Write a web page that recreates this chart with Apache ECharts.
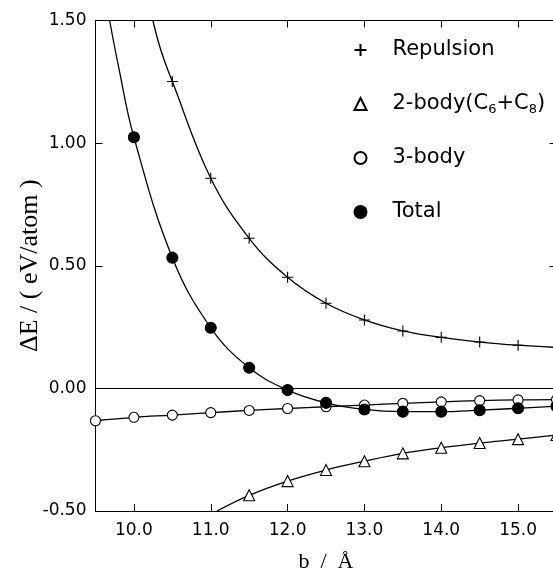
<!DOCTYPE html>
<html>
<head>
<meta charset="utf-8">
<script src="https://cdn.jsdelivr.net/npm/echarts@6/dist/echarts.min.js"></script>
<style>
html,body{margin:0;padding:0;background:#fff;}
#chart{width:553px;height:577px;}
</style>
</head>
<body>
<div id="chart"></div>
<script>
// ---- data ----
const seriesNames = ['Repulsion', '2-body', '3-body', 'Total'];

const repulsionB = [10.5, 11.0, 11.5, 12.0, 12.5, 13.0, 13.5, 14.0, 14.5, 15.0];
const repulsion  = [1.251, 0.857, 0.612, 0.453, 0.347, 0.279, 0.234, 0.208, 0.189, 0.176];

const twoBodyB = [11.5, 12.0, 12.5, 13.0, 13.5, 14.0, 14.5, 15.0, 15.5];
const twoBody  = [-0.436, -0.378, -0.333, -0.297, -0.265, -0.242, -0.223, -0.207, -0.190];

const threeBodyB = [9.5, 10.0, 10.5, 11.0, 11.5, 12.0, 12.5, 13.0, 13.5, 14.0, 14.5, 15.0, 15.5];
const threeBody  = [-0.132, -0.118, -0.109, -0.099, -0.090, -0.082, -0.075, -0.068, -0.061, -0.055, -0.050, -0.047, -0.046];

const totalB = [10.0, 10.5, 11.0, 11.5, 12.0, 12.5, 13.0, 13.5, 14.0, 14.5, 15.0, 15.5];
const total  = [1.024, 0.533, 0.247, 0.084, -0.007, -0.059, -0.086, -0.095, -0.095, -0.089, -0.081, -0.073];

// fitted curves
const repulsionCurveB = [10.247, 10.35, 10.5, 11.0, 11.5, 12.0, 12.5, 13.0, 13.5, 14.0, 14.5, 15.0, 15.5];
const repulsionCurve  = [1.50, 1.38, 1.251, 0.857, 0.612, 0.453, 0.347, 0.279, 0.234, 0.208, 0.189, 0.176, 0.167];

const twoBodyCurveB = [11.08, 11.5, 12.0, 12.5, 13.0, 13.5, 14.0, 14.5, 15.0, 15.5];
const twoBodyCurve  = [-0.50, -0.436, -0.378, -0.333, -0.297, -0.265, -0.242, -0.223, -0.207, -0.190];

const threeBodyCurveB = threeBodyB;
const threeBodyCurve  = threeBody;

const totalCurveB = [9.684, 9.80, 10.0, 10.5, 11.0, 11.5, 12.0, 12.5, 13.0, 13.5, 14.0, 14.5, 15.0, 15.5];
const totalCurve  = [1.50, 1.312, 1.024, 0.533, 0.247, 0.084, -0.007, -0.059, -0.086, -0.095, -0.095, -0.089, -0.081, -0.073];

const xTicks = [10, 11, 12, 13, 14, 15];
const xMin = 9.5, xMax = 15.5;
const yMin = -0.5, yMax = 1.5, yStep = 0.5;

// ---- build chart ----
const zip = (a, b) => a.map((v, i) => [v, b[i]]);
const SANS = 'DejaVu Sans';
const SERIF = 'Liberation Serif';

function curve(name, b, v) {
  return {
    name: name, type: 'line', data: zip(b, v), smooth: 0.4,
    showSymbol: false, symbol: 'none', clip: true, silent: true,
    lineStyle: { color: '#000', width: 1.3 }, z: 2
  };
}
function marks(name, b, v, symbol, size, fill) {
  return {
    name: name, type: 'scatter', data: zip(b, v), symbol: symbol, symbolSize: size,
    clip: false, silent: true, z: 5,
    itemStyle: { color: fill, borderColor: '#000', borderWidth: 1.1, opacity: 1 }
  };
}

const plusPath = 'path://M0,5L10,5M5,0L5,10';

const option = {
  animation: false,
  backgroundColor: '#fff',
  grid: { left: 95.5, top: 20.5, width: 461, height: 490.5, containLabel: false, outerBoundsMode: 'none' },
  legend: {
    orient: 'vertical', left: 352, top: 38, padding: 0,
    itemWidth: 12, itemHeight: 12, itemGap: 30,
    selectedMode: false,
    data: seriesNames,
    formatter: function (name) {
      return name === '2-body' ? '{m|2-body(C}{s|6}{m|+C}{s|8}{m|)}' : '{m|' + name + '}';
    },
    textStyle: {
      fontFamily: SANS, fontSize: 21, color: '#000', lineHeight: 24, padding: [0, 0, 0, 21],
      rich: {
        m: { fontFamily: SANS, fontSize: 21, color: '#000', lineHeight: 24 },
        s: { fontFamily: SANS, fontSize: 13, color: '#000', lineHeight: 8, verticalAlign: 'bottom' }
      }
    }
  },
  xAxis: [
    {
      type: 'value', min: xMin, max: xMax, position: 'bottom',
      name: 'b  /  Å', nameLocation: 'middle', nameGap: 40, nameMoveOverlap: false,
      nameTextStyle: { fontFamily: SERIF, fontSize: 22, color: '#000' },
      axisLine: { show: true, onZero: false, lineStyle: { color: '#000', width: 1 } },
      axisTick: { show: true, inside: true, length: 7, customValues: xTicks, lineStyle: { color: '#000' } },
      axisLabel: { show: true, customValues: xTicks, margin: 11, fontFamily: SANS, fontSize: 17, color: '#000',
                   formatter: v => Number(v).toFixed(1) },
      splitLine: { show: false }
    },
    {
      type: 'value', min: xMin, max: xMax, position: 'top',
      axisLine: { show: true, onZero: false, lineStyle: { color: '#000', width: 1 } },
      axisTick: { show: true, inside: true, length: 7, customValues: xTicks, lineStyle: { color: '#000' } },
      axisLabel: { show: false },
      splitLine: { show: false }
    }
  ],
  yAxis: [
    {
      type: 'value', min: yMin, max: yMax, interval: yStep, position: 'left',
      name: 'ΔE / ( eV/atom )', nameLocation: 'middle', nameGap: 52, nameMoveOverlap: false,
      nameTextStyle: { fontFamily: SERIF, fontSize: 26, color: '#000' },
      axisLine: { show: true, onZero: false, lineStyle: { color: '#000', width: 1 } },
      axisTick: { show: true, inside: true, length: 7, lineStyle: { color: '#000' } },
      axisLabel: { show: true, margin: 9, fontFamily: SANS, fontSize: 17, color: '#000',
                   formatter: v => Number(v).toFixed(2) },
      splitLine: { show: false }
    },
    {
      type: 'value', min: yMin, max: yMax, interval: yStep, position: 'right',
      axisLine: { show: true, onZero: false, lineStyle: { color: '#000', width: 1 } },
      axisTick: { show: true, inside: true, length: 7, lineStyle: { color: '#000' } },
      axisLabel: { show: false },
      splitLine: { show: false }
    }
  ],
  series: [
    Object.assign(curve('3-body fit', threeBodyCurveB, threeBodyCurve), {
      markLine: {
        silent: true, symbol: ['none', 'none'], label: { show: false },
        lineStyle: { color: '#000', type: 'solid', width: 1.2 },
        data: [{ yAxis: 0 }]
      }
    }),
    curve('Repulsion fit', repulsionCurveB, repulsionCurve),
    curve('2-body fit', twoBodyCurveB, twoBodyCurve),
    curve('Total fit', totalCurveB, totalCurve),
    marks('Repulsion', repulsionB, repulsion, plusPath, 11, 'none'),
    marks('2-body', twoBodyB, twoBody, 'triangle', 11, '#fff'),
    marks('3-body', threeBodyB, threeBody, 'circle', 10, '#fff'),
    marks('Total', totalB, total, 'circle', 11, '#000')
  ]
};

const chart = echarts.init(document.getElementById('chart'), null, { renderer: 'canvas' });
chart.setOption(option);
</script>
</body>
</html>
